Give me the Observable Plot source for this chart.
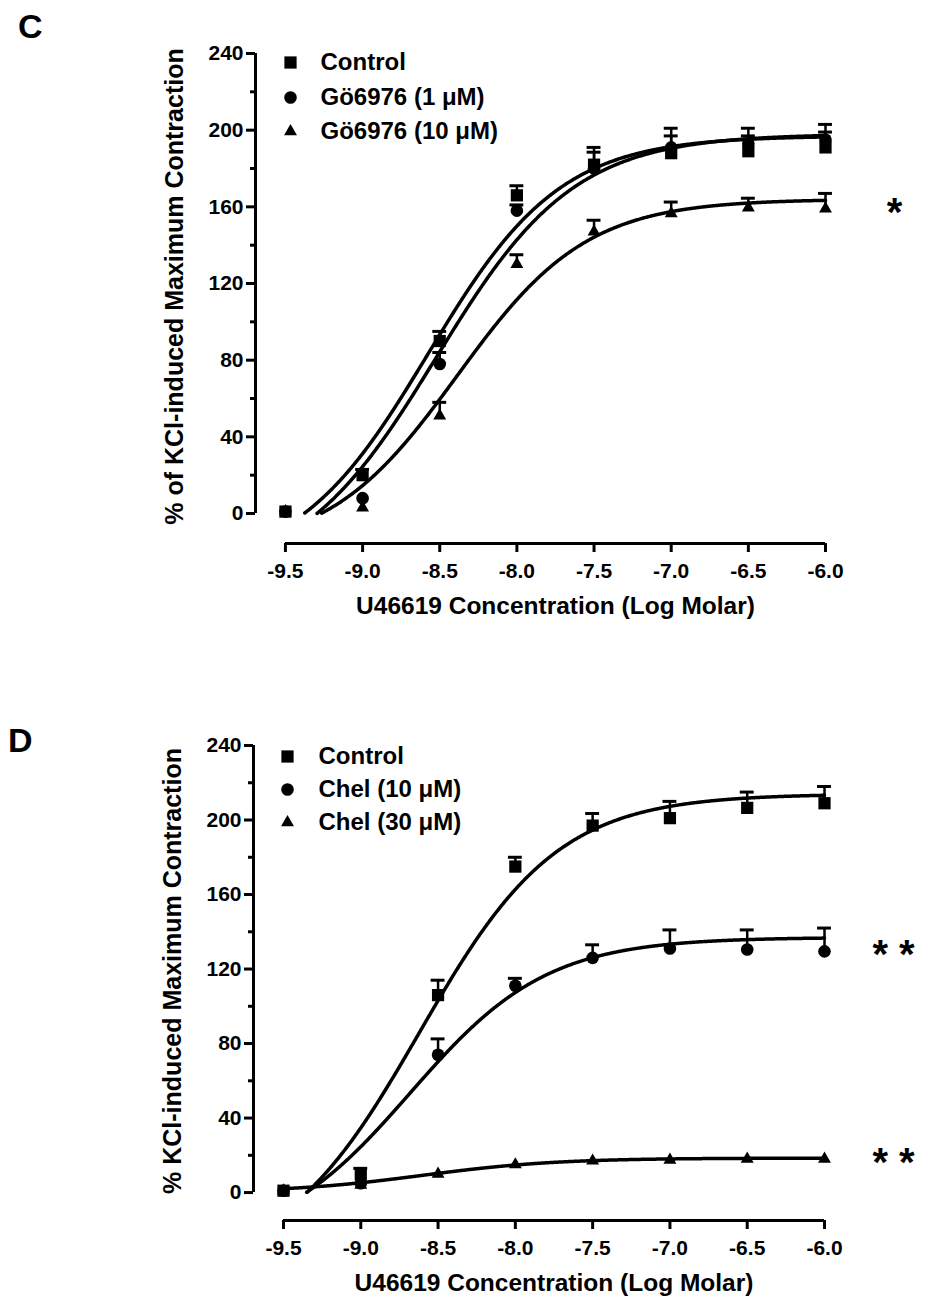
<!DOCTYPE html>
<html><head><meta charset="utf-8">
<script src="https://cdn.jsdelivr.net/npm/d3@7"></script>
<script src="https://cdn.jsdelivr.net/npm/@observablehq/plot@0.6"></script>
<style>
body{margin:0;background:#fff;}
#wrap{position:relative;width:928px;height:1299px;font-family:"Liberation Sans",Arial,sans-serif;color:#000;}
.letter{position:absolute;font-weight:bold;font-size:34px;line-height:1;font-family:"Liberation Sans",Arial,sans-serif;}
svg{display:block}
</style></head><body><div id="wrap"></div>
<script>
// ---- shared axis data ----
const logConc = [-9.5, -9.0, -8.5, -8.0, -7.5, -7.0, -6.5, -6.0];
const yMajorTicks = [0, 40, 80, 120, 160, 200, 240];
const yMinorTicks = [20, 60, 100, 140, 180, 220];
const xTitle = "U46619 Concentration (Log Molar)";

// ---- Panel C ----
const cSeries = ["Control", "Gö6976 (1 μM)", "Gö6976 (10 μM)"];
const cControlMean = [1, 20, 90, 166, 182, 188, 189, 191];
const cControlSem  = [0, 3, 5, 5, 9, 9, 8, 8];
const cGo1Mean     = [1, 8, 78, 158, 180, 191, 193, 195];
const cGo1Sem      = [0, 0, 6, 3, 8.5, 10, 8, 8];
const cGo10Mean    = [1, 3, 51, 130, 147, 156.5, 159.5, 159];
const cGo10Sem     = [0, 0, 7, 5, 6, 6, 5, 8];
// fitted sigmoid parameters (bottom, top, logEC50, hill)
const cFitBottom  = [-30, -35, -20];
const cFitTop     = [197, 198, 164];
const cFitLogEC50 = [-8.574, -8.522, -8.386];
const cFitHill    = [1.015, 0.973, 1.035];
const cStars = [{series: 2, label: "*"}];
const cYTitle = "% of KCl-induced Maximum Contraction";

// ---- Panel D ----
const dSeries = ["Control", "Chel (10 μM)", "Chel (30 μM)"];
const dControlMean = [1, 10, 106, 175, 197, 201, 206.5, 209];
const dControlSem  = [0, 3, 8, 5, 6.5, 9, 8.5, 9];
const dChel10Mean  = [1, 5, 74, 111, 126, 131, 130.5, 129.5];
const dChel10Sem   = [0, 0, 8.5, 4, 7, 10, 10.5, 12.5];
const dChel30Mean  = [1, 4, 10, 15, 17, 17.5, 18, 18];
const dChel30Sem   = [0, 0, 0, 0, 0, 0, 0, 0];
const dFitBottom  = [-42, -30, 0];
const dFitTop     = [214, 137, 18.5];
const dFitLogEC50 = [-8.62, -8.68, -8.6];
const dFitHill    = [0.97, 0.98, 1.0];
const dStars = [{series: 1, label: "* *"}, {series: 2, label: "* *"}];
const dYTitle = "% KCl-induced Maximum Contraction";

const symbols = ["square", "circle", "triangle"];
const radii = [6.9, 6.3, 4.8];

function panel(cfg) {
  const {series, means, sems, fit, stars, yTitle, height, marginTop, marginBottom, marginLeft, marginRight, yMin, legendRows} = cfg;
  const xLo = logConc[0], xHi = logConc[logConc.length - 1];
  const rows = [];
  means.forEach((m, s) => m.forEach((v, i) => rows.push({s, x: logConc[i], y: v, e: sems[s][i]})));
  const errRows = rows.filter(d => d.e > 0);
  const curves = [];
  series.forEach((_, s) => {
    const N = 700;
    for (let k = 0; k <= N; k++) {
      const x = xLo + k * (xHi - xLo) / N;
      const y = fit.bottom[s] + (fit.top[s] - fit.bottom[s]) / (1 + Math.pow(10, (fit.logEC50[s] - x) * fit.hill[s]));
      if (y >= 0) curves.push({s, x, y});
    }
  });
  const capHalf = 0.045;
  const xMin = xLo - 0.194;
  const marks = [
    Plot.line(curves, {x: "x", y: "y", z: "s", stroke: "black", strokeWidth: 3.5}),
    Plot.ruleX(errRows, {x: "x", y1: "y", y2: d => d.y + d.e, stroke: "black", strokeWidth: 2.5}),
    Plot.ruleY(errRows, {y: d => d.y + d.e, x1: d => d.x - capHalf, x2: d => d.x + capHalf, stroke: "black", strokeWidth: 3}),
    ...series.map((_, s) => Plot.dot(rows.filter(d => d.s === s), {x: "x", y: "y", symbol: symbols[s], r: radii[s], fill: "black", stroke: "none"})),
    // axes
    Plot.ruleX([xMin], {y1: yMajorTicks[0], y2: yMajorTicks[yMajorTicks.length - 1], stroke: "black", strokeWidth: 3}),
    Plot.ruleY([yMin], {x1: xLo, x2: xHi, stroke: "black", strokeWidth: 3}),
    Plot.axisY({ticks: yMajorTicks, tickSize: 9, tickPadding: 3, strokeWidth: 3, label: null, tickFormat: d => String(d)}),
    Plot.axisY({ticks: yMinorTicks, tickSize: 5, strokeWidth: 3, label: null, tickFormat: () => ""}),
    Plot.axisX({ticks: logConc, tickSize: 9, tickPadding: 11, strokeWidth: 3, label: null, tickFormat: d => d.toFixed(1)}),
    // titles
    Plot.text([yTitle], {text: d => d, frameAnchor: "left", textAnchor: "middle", lineAnchor: "middle", dx: -81, dy: -12, rotate: -90, fontSize: 25, fontWeight: "bold", fill: "black"}),
    Plot.text([xTitle], {text: d => d, frameAnchor: "bottom", textAnchor: "middle", lineAnchor: "middle", dx: 15, dy: 63, fontSize: 24.5, fontWeight: "bold", fill: "black"}),
    // significance stars
    Plot.text(stars, {x: () => xHi, y: d => means[d.series][means[d.series].length - 1], text: "label", dx: 69, dy: 4, fontSize: 40, fontWeight: "bold", fill: "black"}),
  ];
  // legend
  series.forEach((name, s) => {
    marks.push(Plot.dot([name], {frameAnchor: "top-left", dx: legendRows.markerDx, dy: legendRows.dy[s], symbol: symbols[s], r: radii[s], fill: "black"}));
    marks.push(Plot.text([name], {text: d => d, frameAnchor: "top-left", dx: legendRows.textDx, dy: legendRows.dy[s], textAnchor: "start", lineAnchor: "middle", fontSize: 24, fontWeight: "bold", fill: "black"}));
  });
  return Plot.plot({
    width: 928, height, marginTop, marginBottom, marginLeft, marginRight,
    style: {fontFamily: "'Liberation Sans', Arial, sans-serif", fontSize: "21px", fontWeight: "bold", color: "black", background: "white", overflow: "visible"},
    x: {domain: [xMin, xHi], label: null},
    y: {domain: [yMin, yMajorTicks[yMajorTicks.length - 1]], label: null},
    marks
  });
}

const wrap = document.getElementById("wrap");
wrap.appendChild(panel({
  series: cSeries,
  means: [cControlMean, cGo1Mean, cGo10Mean],
  sems: [cControlSem, cGo1Sem, cGo10Sem],
  fit: {bottom: cFitBottom, top: cFitTop, logEC50: cFitLogEC50, hill: cFitHill},
  stars: cStars, yTitle: cYTitle,
  height: 670, marginTop: 53, marginBottom: 127, marginLeft: 255, marginRight: 103, yMin: -15.65,
  legendRows: {markerDx: 35, textDx: 65, dy: [9, 44, 78]}
}));
wrap.appendChild(panel({
  series: dSeries,
  means: [dControlMean, dChel10Mean, dChel30Mean],
  sems: [dControlSem, dChel10Sem, dChel30Sem],
  fit: {bottom: dFitBottom, top: dFitTop, logEC50: dFitLogEC50, hill: dFitHill},
  stars: dStars, yTitle: dYTitle,
  height: 629, marginTop: 75, marginBottom: 79, marginLeft: 253, marginRight: 104, yMin: -15.0,
  legendRows: {markerDx: 34, textDx: 65, dy: [11, 44, 77]}
}));
const lc = document.createElement("div"); lc.className = "letter"; lc.textContent = "C"; lc.style.left = "18px"; lc.style.top = "9px"; wrap.appendChild(lc);
const ld = document.createElement("div"); ld.className = "letter"; ld.textContent = "D"; ld.style.left = "8px"; ld.style.top = "723px"; wrap.appendChild(ld);
</script></body></html>
